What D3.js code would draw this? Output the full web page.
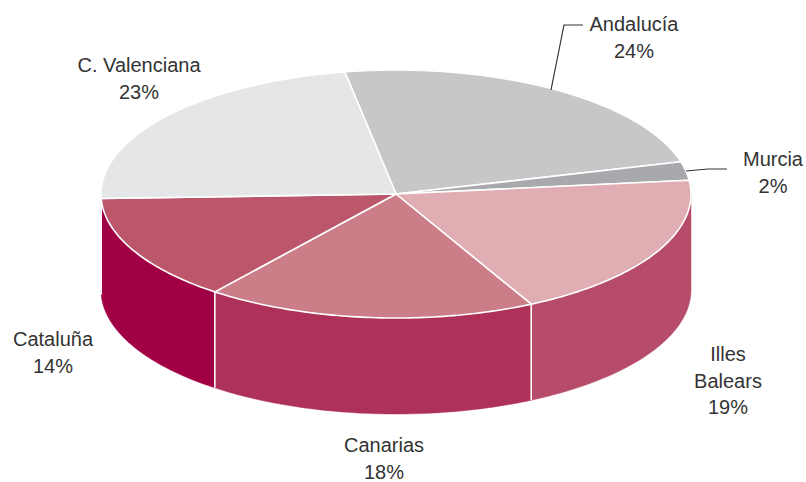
<!DOCTYPE html>
<html lang="en">
<head>
  <meta charset="utf-8" />
  <title>Pie 3D</title>
  <style>
    body { margin: 0; background: #fff; }
    svg { display: block; }
    text { font-family: "Liberation Sans", sans-serif; font-size: 20px; fill: #333; text-anchor: middle; }
  </style>
</head>
<body>
<div id="chart"></div>
<script src="https://d3js.org/d3.v7.min.js"></script>
<script>
// Data: shares, the labels show them rounded
const regions = ["Andalucía", "Murcia", "Illes Balears", "Canarias", "Cataluña", "C. Valenciana"];
const shares = [23.6, 2.4, 19.2, 18.1, 13.9, 22.8];
const topColors = ["#c6c7c9", "#a7a9ac", "#e0adb2", "#cb7d88", "#bb566b", "#e5e6e8"];
const sideColors = ["#c6c7c9", "#a7a9ac", "#b64c69", "#ad3158", "#a20044", "#e5e6e8"];

// Layout
const width = 806, height = 482;
const cx = 396, cy = 194, rx = 295, ry = 124, depth = 96;
const startAngle = -10 * Math.PI / 180;

const svg = d3.select("#chart").append("svg")
  .attr("width", width)
  .attr("height", height);

const pie = d3.pie().sort(null)
  .startAngle(startAngle)
  .endAngle(startAngle + 2 * Math.PI);
const slices = pie(shares);

// Angle 0 is at the top, going clockwise, squashed into an ellipse
const px = a => cx + rx * Math.sin(a);
const py = a => cy - ry * Math.cos(a);
const line = d3.line();

function rim(a0, a1, dy) {
  const n = Math.max(2, Math.ceil((a1 - a0) * 60));
  return d3.range(n + 1).map(i => {
    const a = a0 + (a1 - a0) * i / n;
    return [px(a), py(a) + dy];
  });
}

// Side walls, only the front half of the ellipse shows
slices.forEach((d, i) => {
  const a0 = Math.max(d.startAngle, Math.PI / 2);
  const a1 = Math.min(d.endAngle, 3 * Math.PI / 2);
  if (a1 <= a0) return;
  const pts = rim(a0, a1, 0).concat(rim(a0, a1, depth).reverse());
  svg.append("path")
    .attr("d", line(pts) + "Z")
    .attr("fill", sideColors[i])
    .attr("stroke", sideColors[i])
    .attr("stroke-width", 0.5);
  // white seam between the walls
  if (d.startAngle > Math.PI / 2) {
    svg.append("line")
      .attr("x1", px(a0)).attr("y1", py(a0))
      .attr("x2", px(a0)).attr("y2", py(a0) + depth)
      .attr("stroke", "#fff")
      .attr("stroke-width", 1.6);
  }
});

// Top face
slices.forEach((d, i) => {
  const pts = [[cx, cy]].concat(rim(d.startAngle, d.endAngle, 0));
  svg.append("path")
    .attr("d", line(pts) + "Z")
    .attr("fill", topColors[i])
    .attr("stroke", "#fff")
    .attr("stroke-width", 1.6)
    .attr("stroke-linejoin", "round");
});

// Leader lines
const leaders = [
  [[551, 90], [564, 25], [583, 25]],
  [[686, 171], [708, 169], [727, 169]]
];
leaders.forEach(l => {
  svg.append("path")
    .attr("d", line(l))
    .attr("fill", "none")
    .attr("stroke", "#333")
    .attr("stroke-width", 1.2);
});

// Labels, one line per entry
const pct = i => Math.round(shares[i]) + "%";
const labelLines = regions.map((r, i) =>
  (r === "Illes Balears" ? r.split(" ") : [r]).concat(pct(i)));
const labelAnchors = [[634, 31], [773, 166], [728, 361], [384, 452], [53, 346], [139, 72]];
const lineHeight = 26.5;

labelLines.forEach((lines, i) => {
  const t = svg.append("text")
    .attr("x", labelAnchors[i][0])
    .attr("y", labelAnchors[i][1]);
  lines.forEach((s, j) => {
    t.append("tspan")
      .attr("x", labelAnchors[i][0])
      .attr("dy", j ? lineHeight : 0)
      .text(s);
  });
});
</script>
</body>
</html>
